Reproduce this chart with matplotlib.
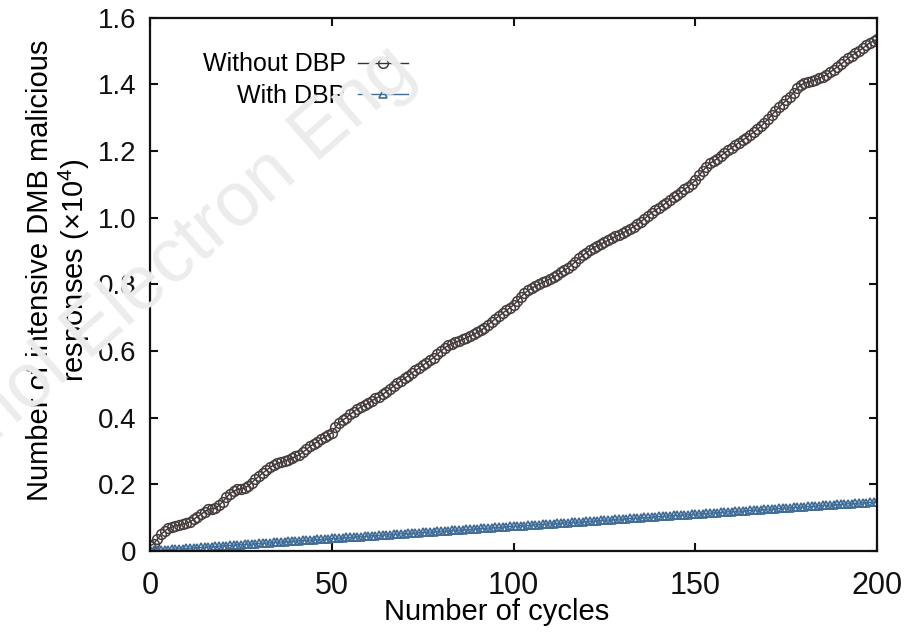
import numpy as np
import matplotlib
matplotlib.use('Agg')
import matplotlib.pyplot as plt

plt.rcParams['font.family'] = ['Liberation Sans', 'DejaVu Sans']
plt.rcParams['mathtext.fontset'] = 'custom'
plt.rcParams['mathtext.rm'] = 'Liberation Sans'

# number of cycles 0..200
cycles = list(range(0, 201))

# malicious responses (counts)
without_dbp = [
    150, 220, 350, 500, 600, 680, 720, 760, 780, 810,
    830, 880, 950, 1030, 1100, 1180, 1250, 1270, 1280, 1370,
    1480, 1610, 1720, 1800, 1850, 1870, 1880, 1960, 2050, 2160,
    2250, 2340, 2420, 2510, 2580, 2630, 2660, 2700, 2740, 2780,
    2840, 2890, 2960, 3050, 3140, 3210, 3280, 3360, 3420, 3480,
    3550, 3710, 3850, 3930, 4000, 4100, 4180, 4260, 4320, 4380,
    4430, 4510, 4580, 4630, 4700, 4780, 4860, 4950, 5030, 5110,
    5180, 5260, 5340, 5420, 5490, 5570, 5650, 5720, 5800, 5900,
    6000, 6090, 6170, 6220, 6260, 6310, 6350, 6400, 6450, 6500,
    6560, 6620, 6700, 6790, 6880, 6970, 7050, 7140, 7220, 7300,
    7380, 7500, 7620, 7730, 7820, 7890, 7950, 8010, 8060, 8110,
    8170, 8220, 8280, 8360, 8430, 8500, 8580, 8680, 8780, 8870,
    8950, 9030, 9100, 9160, 9210, 9270, 9320, 9380, 9440, 9490,
    9540, 9600, 9660, 9730, 9800, 9880, 9970, 10060, 10150, 10230,
    10300, 10370, 10450, 10540, 10620, 10690, 10760, 10850, 10930, 11020,
    11120, 11270, 11400, 11520, 11630, 11700, 11770, 11860, 11940, 12020,
    12100, 12180, 12250, 12330, 12400, 12480, 12560, 12650, 12740, 12850,
    12960, 13080, 13200, 13310, 13420, 13520, 13620, 13750, 13880, 13980,
    14040, 14070, 14100, 14140, 14180, 14230, 14280, 14360, 14440, 14520,
    14600, 14690, 14780, 14860, 14940, 15010, 15080, 15170, 15250, 15300,
    15350]

with_dbp = [
    10, 20, 20, 30, 40, 40, 50, 60, 70, 70,
    80, 90, 100, 100, 110, 120, 130, 130, 140, 150,
    160, 160, 170, 180, 190, 190, 200, 210, 210, 220,
    230, 240, 240, 250, 260, 270, 270, 280, 290, 300,
    300, 310, 320, 320, 330, 340, 350, 350, 360, 370,
    380, 380, 390, 400, 410, 410, 420, 430, 430, 440,
    450, 460, 460, 470, 480, 490, 490, 500, 510, 520,
    520, 530, 540, 540, 550, 560, 570, 570, 580, 590,
    600, 600, 610, 620, 630, 630, 640, 650, 650, 660,
    670, 680, 680, 690, 700, 710, 710, 720, 730, 740,
    740, 750, 760, 760, 770, 780, 790, 790, 800, 810,
    820, 820, 830, 840, 850, 850, 860, 870, 870, 880,
    890, 900, 900, 910, 920, 930, 930, 940, 950, 960,
    960, 970, 980, 980, 990, 1000, 1010, 1010, 1020, 1030,
    1040, 1040, 1050, 1060, 1070, 1070, 1080, 1090, 1090, 1100,
    1110, 1120, 1120, 1130, 1140, 1150, 1150, 1160, 1170, 1180,
    1180, 1190, 1200, 1200, 1210, 1220, 1230, 1230, 1240, 1250,
    1260, 1260, 1270, 1280, 1290, 1290, 1300, 1310, 1310, 1320,
    1330, 1340, 1340, 1350, 1360, 1370, 1370, 1380, 1390, 1400,
    1400, 1410, 1420, 1420, 1430, 1440, 1450, 1450, 1460, 1470,
    1480]

x_ticks = [0, 50, 100, 150, 200]
y_ticks = [0, 0.2, 0.4, 0.6, 0.8, 1.0, 1.2, 1.4, 1.6]
y_ticklabels = ['0', '0.2', '0.4', '0.6', '0.8', '1.0', '1.2', '1.4', '1.6']

fig = plt.figure(figsize=(9.09, 6.32), dpi=100)
ax = fig.add_axes([0.165, 0.128, 0.800, 0.844])

# faint journal watermark behind the plot
fig.text(0.446, 0.905, 'Front Inform Technol Electron Eng', fontsize=55,
         color='#ececec', rotation=41, rotation_mode='anchor',
         ha='right', va='center', zorder=0)
ax.patch.set_alpha(0)

ax.plot(cycles, np.array(without_dbp) / 1e4, color='#3b3333', lw=1.0,
        marker='o', ms=7, mfc='none', mec='#463c3c', mew=1.1,
        label='Without DBP')
ax.plot(cycles, np.array(with_dbp) / 1e4, color='#3f6c96', lw=1.0,
        marker='^', ms=5.5, mfc='none', mec='#3f6c96', mew=1.2,
        label='With DBP')

ax.set_xlim(0, 200)
ax.set_ylim(0, 1.6)
ax.set_xticks(x_ticks)
ax.set_yticks(y_ticks)
ax.set_yticklabels(y_ticklabels)
ax.tick_params(direction='in', top=True, right=True, length=6, width=1.5,
               colors='#111111')
ax.tick_params(axis='x', pad=14, labelsize=22)
ax.tick_params(axis='y', pad=10, labelsize=20)
for s in ax.spines.values():
    s.set_linewidth(1.6)
    s.set_color('#111111')

ax.set_xlabel('Number of cycles', fontsize=21, va='top')
ax.xaxis.set_label_coords(0.477, -0.088)
ax.set_ylabel('Number of intensive DMB malicious\nresponses (×10$^{4}$)',
              fontsize=21, linespacing=1.1)
ax.yaxis.set_label_coords(-0.08, 0.527)

leg = ax.legend(loc='upper right', bbox_to_anchor=(0.355, 0.935),
                markerfirst=False, frameon=False, fontsize=18,
                handlelength=2.0, handletextpad=0.5, labelspacing=0.3,
                borderpad=0, borderaxespad=0)

fig.savefig('out.png', dpi=100)
